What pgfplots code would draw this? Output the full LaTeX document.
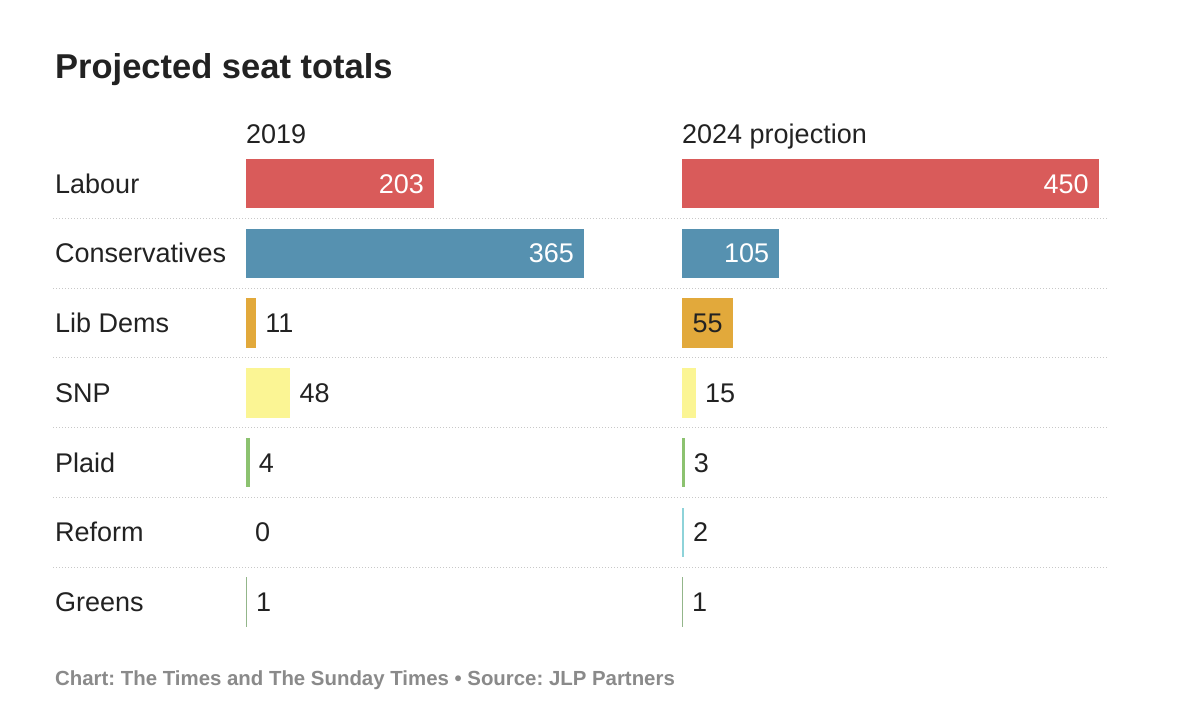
\documentclass[border=0pt]{standalone}
\usepackage{pgfplots}
\pgfplotsset{compat=1.18}
\usepackage{fontspec}
\setmainfont{Liberation Sans}
\frenchspacing
\definecolor{lab}{HTML}{D95B5A}
\definecolor{con}{HTML}{5691B0}
\definecolor{ld}{HTML}{E2A93B}
\definecolor{snp}{HTML}{FBF594}
\definecolor{pc}{HTML}{8CC270}
\definecolor{rfm}{HTML}{8ED3D9}
\definecolor{grn}{HTML}{93B68A}
\definecolor{txt}{HTML}{222222}
\definecolor{foot}{HTML}{8A8A8A}
\definecolor{sep}{HTML}{C8C8C8}
\newcommand{\lblfont}{\fontsize{27}{31}\selectfont}
\pgfplotsset{
  panel/.style={
    x=0.9265pt, y=69.75pt, y dir=reverse,
    xmin=0, xmax=460, ymin=-0.5, ymax=6.5,
    anchor=north west,
    axis line style={draw=none}, tick style={draw=none},
    major tick length=0pt,
    xtick=\empty, ytick=\empty,
    clip=false,
    /pgf/number format/assume math mode=true,
    point meta=x,
    every axis title/.style={at={(0,1)}, anchor=base west, inner sep=0pt, yshift=5.6pt, font=\lblfont, text=txt},
  },
  b/.style={xbar, bar width=49.5pt, bar shift=0pt, fill=#1, draw=none},
  outl/.style={nodes near coords,
    every node near coord/.style={font=\lblfont, inner sep=0pt, anchor=base west, xshift=9pt, yshift=-9.5pt, text=txt}},
  inl/.style={nodes near coords,
    every node near coord/.style={font=\lblfont, inner sep=0pt, anchor=base east, xshift=-10pt, yshift=-9.5pt, text=#1}},
}
\begin{document}
\begin{tikzpicture}[x=1pt,y=1pt]
\path[use as bounding box, fill=white] (0,0) rectangle (1200,716);
% title
\node[anchor=base west, inner sep=0pt, text=txt, font=\fontsize{34.5}{40}\selectfont\bfseries] at (55,{716-79}) {Projected seat totals};
% separators
\foreach \yy in {218.4,288.1,357.9,427.6,497.4,567.1}{
  \draw[sep, line width=1pt, dash pattern=on 1pt off 2pt] (53,{716-\yy}) -- (1107,{716-\yy});
}
% 2019 panel
\begin{axis}[panel, at={(246pt,567.375pt)}, title={2019},
  ytick={0,1,2,3,4,5,6},
  yticklabels={Labour,Conservatives,Lib Dems,SNP,Plaid,Reform,Greens},
  yticklabel style={anchor=base west, xshift=-191pt, yshift=-9.5pt, inner sep=0pt, font=\lblfont, text=txt},
]
\addplot[b=lab, inl=white] coordinates {(203,0)};
\addplot[b=con, inl=white] coordinates {(365,1)};
\addplot[b=ld, outl] coordinates {(11,2)};
\addplot[b=snp, outl] coordinates {(48,3)};
\addplot[b=pc, outl] coordinates {(4,4)};
\addplot[b=rfm, fill=none, outl] coordinates {(0,5)};
\addplot[b=grn, outl] coordinates {(1,6)};
\end{axis}
% 2024 panel
\begin{axis}[panel, at={(682pt,567.375pt)}, title={2024 projection}]
\addplot[b=lab, inl=white] coordinates {(450,0)};
\addplot[b=con, inl=white] coordinates {(105,1)};
\addplot[b=ld, inl=txt] coordinates {(55,2)};
\addplot[b=snp, outl] coordinates {(15,3)};
\addplot[b=pc, outl] coordinates {(3,4)};
\addplot[b=rfm, outl] coordinates {(2,5)};
\addplot[b=grn, outl] coordinates {(1,6)};
\end{axis}
% footer
\node[anchor=base west, inner sep=0pt, text=foot, font=\fontsize{20.4}{24}\selectfont\bfseries] at (55,{716-685}) {Chart: The Times and The Sunday Times \textbullet{} Source: JLP Partners};
\end{tikzpicture}
\end{document}
